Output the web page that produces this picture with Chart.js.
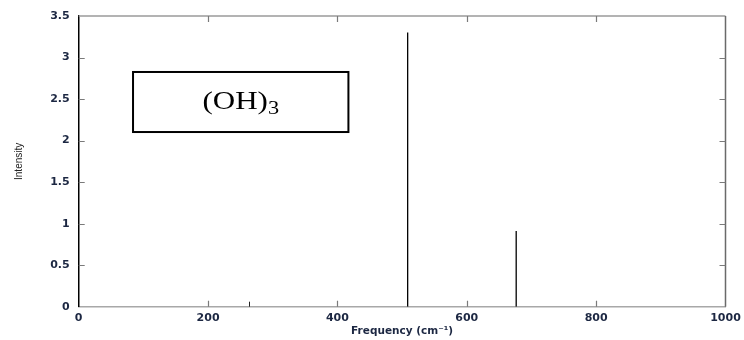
<!DOCTYPE html>
<html><head><meta charset="utf-8">
<script src="https://cdn.jsdelivr.net/npm/chart.js@4.4.0/dist/chart.umd.min.js"></script>
<style>html,body{margin:0;padding:0;background:#fff}#wrap{width:744px;height:340px;position:relative}</style>
</head><body><div id="wrap"><canvas id="c"></canvas></div>
<script>
const frequencies = [508.6, 676.4];
const intensities = [3.3, 0.91];
const xTicks = [0, 200, 400, 600, 800, 1000];
const yTicks = [0, 0.5, 1, 1.5, 2, 2.5, 3, 3.5];
const boxLabel = '(OH)';
const boxSub = '3';
const xTitle = 'Frequency (cm\u207B\u00B9)';
const yTitle = 'Intensity';

const datasets = frequencies.map((f, i) => ({
  data: [{x: f, y: 0}, {x: f, y: intensities[i]}],
  borderColor: '#000', borderWidth: 1.3, pointRadius: 0, showLine: true, fill: false
}));

const labelColor = '#1c2742';

const framePlugin = {
  id: 'frame',
  afterDatasetsDraw(chart) {
    const {ctx, chartArea: a, scales: {x, y}} = chart;
    ctx.save();
    ctx.lineWidth = 1.5;
    ctx.strokeStyle = '#9a9a9a';
    ctx.beginPath(); ctx.moveTo(a.left, a.top); ctx.lineTo(a.right, a.top); ctx.stroke();
    ctx.strokeStyle = '#6a6a6a';
    ctx.beginPath(); ctx.moveTo(a.right, a.top); ctx.lineTo(a.right, a.bottom); ctx.stroke();
    ctx.strokeStyle = '#7a7a7a'; ctx.lineWidth = 1.2;
    const L = 6;
    xTicks.forEach(v => {
      if (v === xTicks[0] || v === xTicks[xTicks.length - 1]) return;
      const px = Math.round(x.getPixelForValue(v)) + 0.5;
      ctx.beginPath();
      ctx.moveTo(px, a.bottom); ctx.lineTo(px, a.bottom - L);
      ctx.moveTo(px, a.top); ctx.lineTo(px, a.top + L);
      ctx.stroke();
    });
    yTicks.forEach(v => {
      if (v === yTicks[0] || v === yTicks[yTicks.length - 1]) return;
      const py = Math.round(y.getPixelForValue(v)) + 0.5;
      ctx.beginPath();
      ctx.moveTo(a.left, py); ctx.lineTo(a.left + L, py);
      ctx.moveTo(a.right, py); ctx.lineTo(a.right - L, py);
      ctx.stroke();
    });
    ctx.strokeStyle = '#222'; ctx.lineWidth = 1;
    const sx = Math.round(x.getPixelForValue(264)) + 0.5;
    ctx.beginPath(); ctx.moveTo(sx, a.bottom); ctx.lineTo(sx, a.bottom - 5); ctx.stroke();

    const bx1 = x.getPixelForValue(84), bx2 = x.getPixelForValue(417);
    const by1 = y.getPixelForValue(2.826), by2 = y.getPixelForValue(2.103);
    ctx.strokeStyle = '#000'; ctx.lineWidth = 2;
    ctx.fillStyle = '#fff';
    ctx.fillRect(bx1, by1, bx2 - bx1, by2 - by1);
    ctx.strokeRect(bx1, by1, bx2 - bx1, by2 - by1);
    ctx.fillStyle = '#000';
    ctx.textBaseline = 'alphabetic';
    ctx.textAlign = 'left';
    ctx.save();
    ctx.translate(202.5, 109);
    ctx.scale(1.24, 1);
    ctx.font = '25px "Liberation Serif", "Times New Roman", serif';
    ctx.fillText(boxLabel, 0, 0);
    const w = ctx.measureText(boxLabel).width;
    ctx.font = '18px "Liberation Serif", "Times New Roman", serif';
    ctx.fillText(boxSub, w, 5);
    ctx.restore();
    ctx.restore();
  }
};

new Chart(document.getElementById('c'), {
  type: 'scatter',
  data: {datasets},
  plugins: [framePlugin],
  options: {
    responsive: true, maintainAspectRatio: false, animation: false,
    layout: {padding: {top: 16, right: 18.5, left: 0, bottom: 0}},
    plugins: {legend: {display: false}, tooltip: {enabled: false}},
    scales: {
      x: {
        type: 'linear', min: 0, max: 1000,
        afterBuildTicks: s => { s.ticks = xTicks.map(v => ({value: v})); },
        afterFit: s => { s.height = 33.3; s.paddingRight = 0; s.paddingLeft = 0; },
        grid: {display: false, drawTicks: false},
        border: {display: true, color: '#a8a8a8', width: 1.5},
        ticks: {color: labelColor, padding: 5, maxRotation: 0, autoSkip: false,
          callback: v => String(v),
          font: {family: '"DejaVu Sans"', size: 11, weight: 'bold'}},
        title: {display: true, text: xTitle, color: labelColor, padding: {top: 0, bottom: 2.4},
          font: {family: '"DejaVu Sans"', size: 10.5, weight: 'bold'}}
      },
      y: {
        type: 'linear', min: 0, max: 3.5,
        afterBuildTicks: s => { s.ticks = yTicks.map(v => ({value: v})); },
        afterFit: s => { s.width = 78.7; s.paddingTop = 0; s.paddingBottom = 0; },
        grid: {display: false, drawTicks: false},
        border: {display: true, color: '#000', width: 1.5},
        ticks: {color: labelColor, padding: 9, autoSkip: false,
          callback: v => String(v),
          font: {family: '"DejaVu Sans"', size: 11, weight: 'bold'}},
        title: {display: true, text: yTitle, color: '#222', padding: {top: 13, bottom: 0},
          font: {family: '"Liberation Sans Narrow", "Liberation Sans"', size: 10}}
      }
    }
  }
});
</script>
</body></html>
